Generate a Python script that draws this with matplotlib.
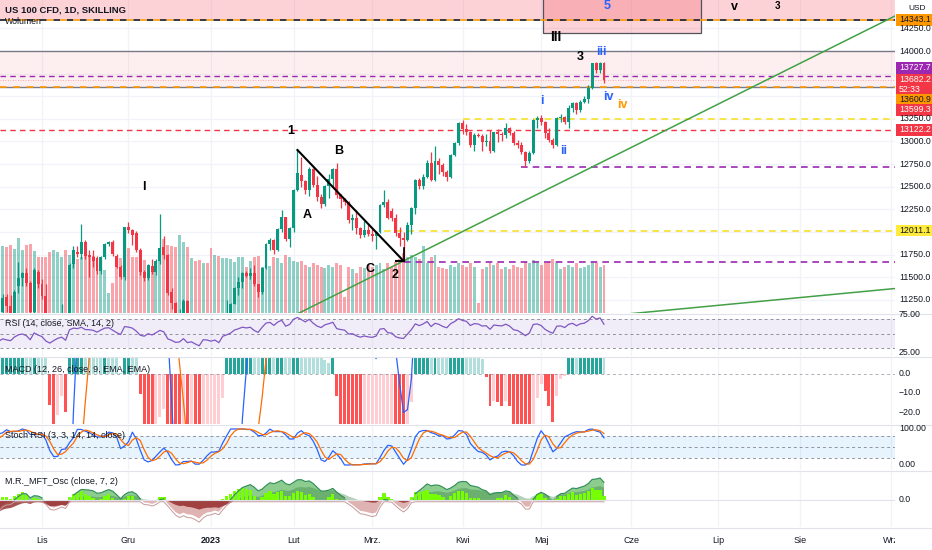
import numpy as np
import pandas as pd
import matplotlib
matplotlib.use("Agg")
import matplotlib.pyplot as plt
from matplotlib.patches import Rectangle
import matplotlib.transforms as mtransforms

plt.rcParams['font.family'] = ['Liberation Sans', 'DejaVu Sans']

# ------------------------------------------------------------------ data
# closes before the visible window (used only for indicator warm-up)
warmup_close = [12270, 12010, 12000, 11940, 12190, 12260, 12530, 12720, 12020, 12110, 11900, 11850,
                11940, 11850, 11640, 11490, 11310, 11250, 11250, 11530, 11200, 10970,
                11230, 11620, 11620, 11520, 11060, 10950, 10820, 10790, 11070, 10730]

# visible bars: 2022-10-17 .. 2023-05-23 (weekdays, no 26 Dec / 2 Jan)
open_oct = [10980, 11120, 11286, 11180, 11100, 11407, 11488, 11543, 11433, 11120, 11560]
high_oct = [11150, 11320, 11310, 11300, 11360, 11672, 11560, 11600, 11460, 11600, 11580]
low_oct = [10950, 11060, 11120, 11060, 10900, 11330, 11400, 11400, 11080, 11080, 11380]
close_oct = [11120, 11274, 11180, 11110, 11340, 11488, 11543, 11433, 11120, 11580, 11420]

open_nov = [11420, 11290, 10900, 10700, 10860, 11000, 11080, 10820, 11645, 11780, 11762, 11890,
            11750, 11722, 11715, 11568, 11722, 11862, 11890, 11740, 11617, 11506]
high_nov = [11480, 11420, 10960, 10900, 11020, 11200, 11100, 11660, 11840, 11840, 12085, 11910,
            11800, 11800, 11730, 11740, 11880, 11900, 11910, 11760, 11640, 12060]
low_nov = [11260, 10880, 10660, 10560, 10800, 10900, 10800, 10800, 11600, 11720, 11700, 11700,
           11506, 11615, 11540, 11540, 11700, 11850, 11740, 11600, 11480, 11470]
close_nov = [11290, 10900, 10700, 10860, 11000, 11080, 10820, 11635, 11801, 11762, 11890, 11735,
             11722, 11685, 11568, 11722, 11862, 11887, 11757, 11617, 11506, 12052]

open_dec = [12052, 12022, 11993, 11800, 11555, 11488, 11625, 11555, 11680, 11830, 11745, 11340,
            11210, 11060, 11080, 11235, 10950, 10990, 10830, 10680, 10960]
high_dec = [12115, 12030, 12010, 11820, 11580, 11650, 11700, 11700, 12195, 11960, 11760, 11380,
            11230, 11150, 11260, 11250, 11010, 11000, 10900, 10980, 10970]
low_dec = [11990, 11860, 11780, 11520, 11460, 11470, 11540, 11520, 11650, 11700, 11300, 11150,
           11020, 10960, 11060, 10800, 10850, 10790, 10670, 10670, 10800]
close_dec = [12022, 11967, 11800, 11555, 11488, 11630, 11555, 11680, 11820, 11745, 11323, 11210,
             11060, 11080, 11235, 10950, 10990, 10830, 10680, 10960, 10940]

open_jan = [10940, 10860, 10910, 10740, 11040, 11110, 11204, 11378, 11450, 11543, 11510, 11550,
            11420, 11340, 11599, 11867, 11917, 11800, 12030, 12162, 11920]
high_jan = [11050, 11000, 10920, 11060, 11250, 11220, 11390, 11500, 11560, 11570, 11600, 11640,
            11430, 11610, 11880, 11930, 11925, 12040, 12240, 12170, 12050]
low_jan = [10750, 10800, 10720, 10700, 11030, 11050, 11200, 11300, 11380, 11500, 11480, 11400,
           11280, 11320, 11590, 11800, 11760, 11790, 12000, 11900, 11830]
close_jan = [10860, 10910, 10740, 11040, 11110, 11204, 11378, 11450, 11543, 11510, 11550, 11420,
             11340, 11599, 11867, 11917, 11800, 12030, 12162, 11920, 12040]

open_feb = [12040, 12464, 12630, 12560, 12460, 12693, 12519, 12383, 12309, 12508, 12590, 12700,
            12405, 12360, 12330, 12133, 12150, 12040, 11967, 12020]
high_feb = [12480, 12906, 12830, 12580, 12720, 12710, 12620, 12420, 12520, 12640, 12710, 12762,
            12420, 12380, 12340, 12200, 12240, 12060, 12120, 12080]
low_feb = [12000, 12450, 12500, 12420, 12400, 12500, 12340, 12260, 12290, 12380, 12500, 12380,
           12260, 12300, 12100, 12020, 11980, 11930, 11950, 11960]
close_feb = [12464, 12649, 12560, 12460, 12693, 12519, 12383, 12309, 12508, 12590, 12700, 12405,
             12360, 12330, 12133, 12150, 12040, 11967, 12020, 11975]

open_mar = [11975, 11955, 12000, 12298, 12330, 12230, 12150, 11990, 11933, 11912, 12077, 12265,
            12575, 12508, 12610, 12762, 12575, 12780, 12740, 12660, 12610, 12850, 12983]
high_mar = [12030, 12010, 12310, 12464, 12370, 12260, 12200, 12050, 12000, 12110, 12280, 12590,
            12600, 12640, 12800, 12880, 12950, 12820, 12760, 12680, 12860, 12990, 13210]
low_mar = [11900, 11809, 11990, 12280, 12140, 12120, 11960, 11845, 11680, 11900, 11980, 12200,
           12480, 12470, 12600, 12560, 12560, 12640, 12620, 12560, 12600, 12840, 12960]
close_mar = [11955, 12000, 12298, 12330, 12160, 12150, 11990, 11933, 11912, 12077, 12265, 12575,
             12508, 12610, 12762, 12575, 12780, 12740, 12660, 12610, 12850, 12983, 13201]

open_apr = [13201, 13138, 13110, 12961, 13072, 13060, 12990, 13010, 12890, 13100, 13080, 13070,
            13150, 13094, 12983, 12960, 12884, 12790, 12873, 13237]
high_apr = [13240, 13190, 13120, 13090, 13090, 13080, 13080, 13130, 13110, 13140, 13110, 13204,
            13160, 13120, 13020, 12990, 12900, 12890, 13250, 13280]
low_apr = [13080, 13070, 12940, 12900, 13050, 12900, 12950, 12870, 12880, 12990, 13000, 13040,
           13070, 12960, 12930, 12860, 12718, 12760, 12860, 13150]
close_apr = [13138, 13110, 12961, 13072, 13060, 12990, 13010, 12890, 13100, 13080, 13070, 13150,
             13094, 12983, 12960, 12884, 12790, 12873, 13237, 13260]

open_may = [13260, 13215, 13094, 13017, 12961, 13260, 13270, 13220, 13370, 13420, 13350, 13440,
            13470, 13590, 13867, 13790, 13867]
high_may = [13290, 13230, 13150, 13040, 13270, 13300, 13280, 13400, 13440, 13440, 13460, 13500,
            13620, 13870, 13880, 13880, 13880]
low_may = [13180, 13040, 12990, 12930, 12950, 13220, 13190, 13150, 13330, 13300, 13330, 13420,
           13430, 13580, 13760, 13760, 13650]
close_may = [13215, 13094, 13017, 12961, 13260, 13270, 13220, 13370, 13420, 13350, 13440, 13470,
             13590, 13867, 13790, 13867, 13682]

volume = ([81, 84, 82, 85, 80, 94, 79, 85, 86, 78, 70] +
          [70, 70, 76, 79, 76, 70, 79, 72, 79, 68, 70, 74, 71, 71, 60, 54, 54, 25, 38, 66, 69, 90] +
          [81, 70, 70, 64, 66, 60, 54, 61, 81, 93, 85, 84, 83, 97, 89, 83, 69, 65, 66, 62, 62] +
          [81, 72, 71, 69, 69, 68, 64, 70, 70, 58, 65, 70, 71, 58, 64, 59, 70, 69, 62, 72, 70] +
          [65, 64, 65, 60, 58, 62, 60, 58, 56, 60, 58, 62, 60, 20, 57, 55, 50, 58, 56, 60] +
          [58, 60, 62, 55, 62, 58, 64, 68, 75, 70, 72, 70, 68, 84, 62, 70, 72, 58, 56, 55, 60, 58, 62] +
          [60, 58, 62, 57, 12, 55, 58, 62, 60, 62, 55, 58, 55, 60, 58, 56, 64, 62, 66, 62] +
          [60, 62, 64, 68, 62, 55, 58, 60, 58, 62, 56, 58, 60, 64, 62, 58, 60])

month_labels = ["Lis", "Gru", "2023", "Lut", "Mrz.", "Kwi", "Maj", "Cze", "Lip", "Sie", "Wrz"]
month_starts = ["2022-11", "2022-12", "2023-01", "2023-02", "2023-03", "2023-04", "2023-05",
                "2023-06", "2023-07", "2023-08", "2023-09"]

# horizontal levels
lvl_top = 14343.1
lvl_14000 = 14000.0
lvl_purple = 13727.7
lvl_last = 13682.2
lvl_orange = 13600.9
lvl_red1 = 13599.3
lvl_red2 = 13122.2
lvl_yellow1 = 13250.0
lvl_purple2 = 12718.0
lvl_yellow2 = 12011.1
lvl_purple3 = 11668.0

# wave-1 top and wave-2 bottom (black line), trend lines
wave1 = ("2023-02-02", 12906.0)
wave2 = ("2023-03-13", 11680.0)
trend1 = [("2023-03-13", 11680.0), ("2023-05-23", 12784.0)]
trend2 = [("2022-10-13", 10425.0), ("2023-09-01", 11371.0)]

# ------------------------------------------------------------------ build series
o = np.array(open_oct + open_nov + open_dec + open_jan + open_feb + open_mar + open_apr + open_may, float)
h = np.array(high_oct + high_nov + high_dec + high_jan + high_feb + high_mar + high_apr + high_may, float)
l = np.array(low_oct + low_nov + low_dec + low_jan + low_feb + low_mar + low_apr + low_may, float)
c = np.array(close_oct + close_nov + close_dec + close_jan + close_feb + close_mar + close_apr + close_may, float)
v = np.array(volume, float)
n = min(len(o), len(h), len(l), len(c), len(v))
o, h, l, c, v = o[:n], h[:n], l[:n], c[:n], v[:n]

dates_all = pd.bdate_range("2022-09-01", "2023-09-29")
dates_all = dates_all[~dates_all.isin(pd.to_datetime(["2022-12-26", "2023-01-02"]))]
pos = {d: i for i, d in enumerate(dates_all)}


def bi(s):
    return pos[pd.Timestamp(s)]


NW = len(warmup_close)
xv = np.arange(NW, NW + n)
s_all = pd.Series(list(map(float, warmup_close)) + list(c))
xa = np.arange(len(s_all))


def rsi_of(s, k):
    dd = s.diff()
    u = dd.clip(lower=0).ewm(alpha=1 / k, adjust=False).mean()
    w = (-dd.clip(upper=0)).ewm(alpha=1 / k, adjust=False).mean()
    return 100 - 100 / (1 + u / w)


rsi = rsi_of(s_all, 14)

ema12 = s_all.ewm(span=12, adjust=False).mean()
ema26 = s_all.ewm(span=26, adjust=False).mean()
macd = ema12 - ema26
sig = macd.ewm(span=9, adjust=False).mean()
hist = macd - sig

lo = rsi.rolling(14).min()
hi = rsi.rolling(14).max()
stoch = 100 * (rsi - lo) / (hi - lo)
kline = stoch.rolling(3).mean()
dline = kline.rolling(3).mean()

mft_outer = (rsi_of(s_all, 7) - 50).ewm(span=5, adjust=False).mean()
mft_inner = (rsi_of(s_all, 14) - 50).ewm(span=5, adjust=False).mean() * 0.85
mft_fast = (rsi_of(s_all, 3) - 50).ewm(span=3, adjust=False).mean()

# ------------------------------------------------------------------ geometry
W, H = 932, 550
PR = 895
BARPX = 3.93
NOV1PX = 42
I_NOV1 = bi("2022-11-01")
XL = I_NOV1 + (0 - NOV1PX) / BARPX
XR = I_NOV1 + (PR - NOV1PX) / BARPX


def px2x(px):
    return I_NOV1 + (px - NOV1PX) / BARPX


def y2p(py):
    return 14000 - (py - 51) * 11.05


def p2y(p):
    return 51 + (14000 - p) / 11.05


fig = plt.figure(figsize=(W / 100, H / 100), dpi=100)
fig.patch.set_facecolor("white")


def add_ax(top, bot, face="white"):
    a = fig.add_axes([0, 1 - bot / H, PR / W, (bot - top) / H])
    a.set_xlim(XL, XR)
    a.set_facecolor(face)
    for sp in a.spines.values():
        sp.set_visible(False)
    a.set_xticks([])
    a.set_yticks([])
    return a


UP, DN = "#089981", "#f23645"
GRID = "#f0f3fa"
TXT = "#131722"
DASH = (0, (4, 3))

ax_v = add_ax(0, 313)
ax = add_ax(0, 313, face="none")
ax_rsi = add_ax(314, 356)
ax_macd = add_ax(358, 424)
ax_st = add_ax(426, 470)
ax_mft = add_ax(472, 527)
ax_bot = add_ax(527, 550)

PLO, PHI = y2p(313), y2p(0)
ax.set_ylim(PLO, PHI)
VTOP = 100 * 313 / 80
ax_v.set_ylim(0, VTOP)

# month grid
mpos = []
for m in month_starts:
    first = [d0 for d0 in dates_all if d0.strftime("%Y-%m") == m][0]
    mpos.append(pos[first])
for a in (ax_v, ax_rsi, ax_macd, ax_st, ax_mft):
    for mp in mpos:
        a.axvline(mp, color=GRID, lw=0.9, zorder=0)
for p in np.arange(11250, 14300, 250):
    fr = (p - PLO) / (PHI - PLO)
    ax_v.plot([0, 1], [fr, fr], transform=ax_v.transAxes, color=GRID, lw=0.9, zorder=0)

# volume
cols = np.where(c >= o, UP, DN)
ax_v.bar(xv, v, width=0.75, color=cols, alpha=0.45, lw=0, zorder=1)

# zones
ax.axhspan(lvl_top + 12, PHI + 100, color="#f23645", alpha=0.22, lw=0, zorder=0)
ax.axhspan(lvl_orange, lvl_14000, color="#f23645", alpha=0.08, lw=0, zorder=0)
bx0, bx1 = px2x(543), px2x(701)
ax.add_patch(Rectangle((bx0, y2p(33)), bx1 - bx0, PHI + 100 - y2p(33), facecolor="#f23645",
                       alpha=0.22, edgecolor="none", zorder=1))
ax.add_patch(Rectangle((bx0, y2p(33)), bx1 - bx0, PHI + 100 - y2p(33), facecolor="none",
                       edgecolor="#50535e", lw=0.9, zorder=2))

# levels
ax.axhline(lvl_top, color="#131722", ls=(0, (4, 4)), lw=1.2, zorder=2)
ax.axhline(lvl_top, color="#ff9800", ls=(4, (4, 4)), lw=1.2, zorder=2)
ax.axhline(lvl_14000, color="#787b86", lw=1.0, zorder=2)
ax.axhline(lvl_purple, color="#9c27b0", ls=DASH, lw=1.0, zorder=2)
ax.axhline(lvl_last, color="#f23645", ls=(0, (1, 2)), lw=0.6, alpha=0.5, zorder=2)
ax.axhline(lvl_red1, color="#787b86", lw=1.0, zorder=2)
ax.axhline(lvl_orange, color="#ff9800", ls=(0, (4, 4)), lw=1.2, zorder=2)
ax.axhline(lvl_red2, color="#f23645", ls=DASH, lw=1.0, zorder=2)
ax.hlines(lvl_yellow1, bi("2023-04-03"), XR, color="#f5e12b", ls=DASH, lw=1.2, zorder=2)
ax.hlines(lvl_purple2, bi("2023-04-24"), XR, color="#9c27b0", ls=DASH, lw=1.2, zorder=2)
ax.hlines(lvl_yellow2, bi("2023-03-06"), XR, color="#f5e12b", ls=DASH, lw=1.2, zorder=2)
ax.hlines(lvl_purple3, bi("2023-03-13"), XR, color="#9c27b0", ls=DASH, lw=1.2, zorder=2)

# trend lines (extended)
for tl in (trend1, trend2):
    (d1, p1), (d2, p2) = tl
    x1, x2 = bi(d1), bi(d2)
    sl = (p2 - p1) / (x2 - x1)
    xs = np.array([x1 - 60, XR + 5])
    ax.plot(xs, p1 + sl * (xs - x1), color="#43a047", lw=1.1, zorder=2)

# candles
ax.vlines(xv, l, h, colors=cols, lw=0.9, zorder=3)
ax.bar(xv, np.maximum(np.abs(c - o), 4), bottom=np.minimum(o, c), width=0.75, color=cols,
       lw=0, zorder=4)

# wave 1 -> 2
ax.plot([bi(wave1[0]), bi(wave2[0])], [wave1[1], wave2[1]], color="black", lw=1.5, zorder=5)
ax.plot([bi("2023-03-09"), bi(wave2[0])], [wave2[1], wave2[1]], color="black", lw=1.5, zorder=5)
ax.plot([bi(wave2[0]), bi(wave2[0])], [wave2[1], wave2[1] + 140], color="black", lw=1.2, zorder=5)


def lab(px, py, s, color="black", size=9, weight="bold"):
    ax.text(px2x(px), y2p(py), s, color=color, fontsize=size, fontweight=weight,
            ha="center", va="center", zorder=6, clip_on=True)


lab(144, 187, "I")
lab(291, 131, "1")
lab(339, 151, "B")
lab(307, 215, "A")
lab(370, 269, "C")
lab(395, 275, "2")
lab(556, 37, "III", size=10)
lab(580, 57, "3")
lab(601, 52, "iii", color="#2962ff")
lab(542, 101, "i", color="#2962ff")
lab(564, 151, "ii", color="#2962ff")
lab(608, 97, "iv", color="#2962ff")
lab(622, 105, "iv", color="#ff9800")
lab(607, 6, "5", color="#2962ff")
lab(734, 7, "v")
lab(777, 6, "3", size=7)

# ------------------------------------------------------------------ RSI
ax_rsi.set_ylim(19.6, 76.35)
ax_rsi.axhspan(30, 70, color="#7e57c2", alpha=0.1, lw=0)
for lv in (70, 50, 30):
    ax_rsi.axhline(lv, color="#787b86", ls=(0, (3, 3)), lw=0.7, alpha=0.8)
ax_rsi.plot(xa, rsi, color="#7e57c2", lw=0.9)

# ------------------------------------------------------------------ MACD
ax_macd.set_ylim(-26.3, 8.4)
hp = hist.shift(1)
hc = np.where(hist >= 0, np.where(hp < hist, "#26a69a", "#b2dfdb"),
              np.where(hp < hist, "#ffcdd2", "#ff5252"))
msk = xa >= NW
ax_macd.bar(xa[msk], hist[msk], width=0.75, color=hc[msk], lw=0)
ax_macd.axhline(0, color="#787b86", ls=(0, (3, 3)), lw=0.7, alpha=0.6)
ax_macd.plot(xa, macd, color="#2962ff", lw=0.9)
ax_macd.plot(xa, sig, color="#ff6d00", lw=0.9)

# ------------------------------------------------------------------ Stoch RSI
ax_st.set_ylim(-13.9, 108.3)
ax_st.axhspan(20, 80, color="#2196f3", alpha=0.1, lw=0)
for lv in (80, 50, 20):
    ax_st.axhline(lv, color="#787b86", ls=(0, (3, 3)), lw=0.7, alpha=0.8)
ax_st.plot(xa, kline, color="#2962ff", lw=0.9)
ax_st.plot(xa, dline, color="#ff6d00", lw=0.9)

# ------------------------------------------------------------------ MFT osc
mx = np.nanmax(mft_outer[NW:])
hi_l = mx * 28 / 22
ax_mft.set_ylim(-hi_l * 27 / 28, hi_l)
ax_mft.axhline(0, color="#e0e3eb", lw=0.8)
xo = xa[NW - 3:]
A = mft_outer.values[NW - 3:]
B = mft_inner.values[NW - 3:]
F = mft_fast.values[NW - 3:]
ax_mft.fill_between(xo, 0, A, where=A >= 0, interpolate=True, color="#66bb6a", alpha=0.75, lw=0)
ax_mft.fill_between(xo, 0, B, where=B >= 0, interpolate=True, color="#2e7d32", alpha=0.35, lw=0)
ax_mft.plot(xo, np.where(A >= 0, A, np.nan), color="#2e8b57", lw=0.8)
ax_mft.fill_between(xo, 0, A, where=A < 0, interpolate=True, color="#d9a0a0", alpha=0.8, lw=0)
ax_mft.fill_between(xo, 0, B, where=B < 0, interpolate=True, color="#8b1a1a", alpha=0.75, lw=0)
ax_mft.bar(xo, np.clip(F, 0, None) * 0.35, width=0.85, color="#76ff03", lw=0)
ax_mft.plot(xo, np.minimum(A, 0) * 1.1 - mx * 0.08, color="#c49a9a", lw=0.7)

# ------------------------------------------------------------------ texts
def fx(px):
    return px / W


def fy(py):
    return 1 - py / H


fig.text(fx(5), fy(10), "US 100 CFD, 1D, SKILLING", fontsize=6.8, fontweight="bold", color=TXT,
         va="center")
fig.text(fx(5), fy(21), "Wolumen", fontsize=6.3, color=TXT, va="center")
fig.text(fx(5), fy(323), "RSI (14, close, SMA, 14, 2)", fontsize=6.5, color=TXT, va="center")
fig.text(fx(5), fy(370), "MACD (12, 26, close, 9, EMA, EMA)", fontsize=6.5, color=TXT, va="center")
fig.text(fx(5), fy(435), "Stoch RSI (3, 3, 14, 14, close)", fontsize=6.5, color=TXT, va="center")
fig.text(fx(5), fy(481), "M.R._MFT_Osc (close, 7, 2)", fontsize=6.5, color=TXT, va="center")

# price axis
fig.text(fx(908), fy(8), "USD", fontsize=6, color=TXT, va="center")
for p in [14250, 14000, 13250, 13000, 12750, 12500, 12250, 11750, 11500, 11250]:
    fig.text(fx(899), fy(p2y(p)), f"{p:.1f}", fontsize=6.3, color=TXT, va="center")


def tag(py0, py1, lines, bg, fg):
    fig.patches.append(Rectangle((fx(896), fy(py1)), fx(932) - fx(896), fy(py0) - fy(py1),
                                 transform=fig.transFigure, facecolor=bg, edgecolor="none"))
    nl = len(lines)
    for k, t in enumerate(lines):
        yy = py0 + (py1 - py0) * (k + 0.5) / nl
        fig.text(fx(899), fy(yy), t, fontsize=6.3, color=fg, va="center")


tag(14.5, 25.5, [f"{lvl_top:.1f}"], "#ff9800", TXT)
tag(62.5, 73.5, [f"{lvl_purple:.1f}"], "#9c27b0", "white")
tag(74, 94, [f"{lvl_last:.1f}", "52:33"], "#f23645", "white")
tag(94, 104.5, [f"{lvl_orange:.1f}"], "#ff9800", TXT)
tag(104.5, 115.5, [f"{lvl_red1:.1f}"], "#f23645", "white")
tag(124.5, 135.5, [f"{lvl_red2:.1f}"], "#f23645", "white")
tag(225.5, 236.5, [f"{lvl_yellow2:.1f}"], "#ffeb3b", TXT)

# indicator scales
blend = lambda a: mtransforms.blended_transform_factory(fig.transFigure, a.transData)
for a, vals, fmt in ((ax_rsi, [75, 25], "{:.2f}"), (ax_macd, [0, -10, -20], "{:.1f}"),
                     (ax_st, [100, 0], "{:.2f}"), (ax_mft, [0], "{:.1f}")):
    for vv in vals:
        s = fmt.format(vv).replace("-", "\u2212")
        fig.text(fx(899), vv, s, fontsize=6.3, color=TXT, va="center", transform=blend(a))

# separators
for py in (313.5, 357, 425, 471, 527.5):
    fig.add_artist(plt.Line2D([0, 1], [fy(py), fy(py)], transform=fig.transFigure,
                              color="#e0e3eb", lw=0.8))

# time axis
ax_bot.set_ylim(0, 1)
for mp, lb in zip(mpos, month_labels):
    ax_bot.text(mp, 0.4, lb, fontsize=6.5, color=TXT, ha="center", va="center",
                fontweight="bold" if lb == "2023" else "normal", clip_on=True)

fig.savefig("out.png", dpi=100, facecolor="white")
